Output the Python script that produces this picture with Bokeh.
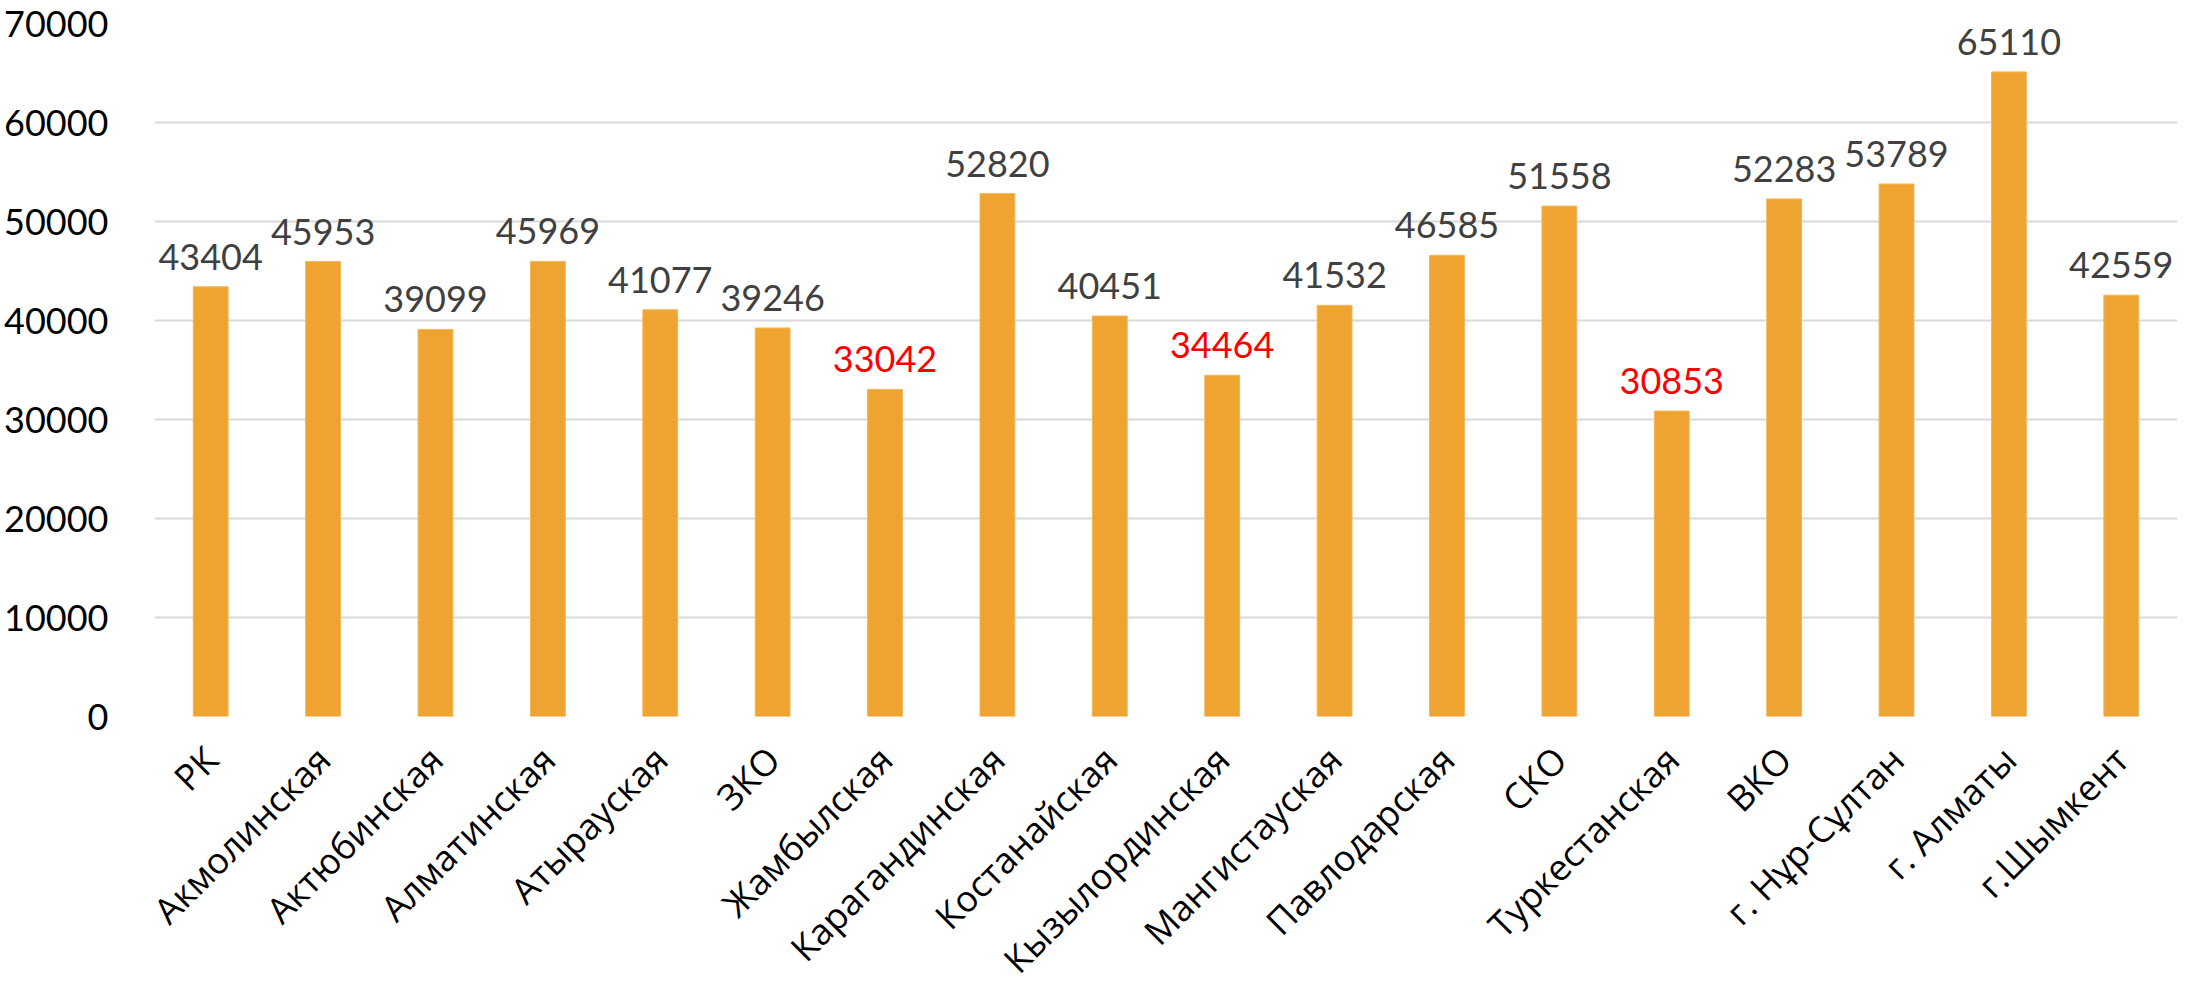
import math
from bokeh.plotting import figure
from bokeh.layouts import column
from bokeh.models import ColumnDataSource, LabelSet, FixedTicker, BasicTickFormatter
from bokeh.core.properties import value
from bokeh.embed import file_html
from bokeh.resources import INLINE

regions = ["РК", "Акмолинская", "Актюбинская", "Алматинская", "Атырауская", "ЗКО",
           "Жамбылская", "Карагандинская", "Костанайская", "Кызылординская",
           "Мангистауская", "Павлодарская", "СКО", "Туркестанская", "ВКО",
           "г. Нұр-Сұлтан", "г. Алматы", "г.Шымкент"]
salary = [43404, 45953, 39099, 45969, 41077, 39246, 33042, 52820, 40451, 34464,
          41532, 46585, 51558, 30853, 52283, 53789, 65110, 42559]
highlighted = ["Жамбылская", "Кызылординская", "Туркестанская"]
y_ticks = [0, 10000, 20000, 30000, 40000, 50000, 60000, 70000]

NUM_FONT = "Lato"
CAT_FONT = "Open Sans"
W = 2194
BL, BR = 154, 17
H_MAIN = 740
H_LABELS = 985 - H_MAIN

label_colors = ["#FF0000" if r in highlighted else "#404040" for r in regions]
src = ColumnDataSource(dict(x=regions, y=salary,
                            lbl=[str(v) for v in salary], col=label_colors))

# ---------------- main chart ----------------
p = figure(x_range=regions, y_range=(0, 70000), width=W, height=H_MAIN,
           output_backend="svg", toolbar_location=None,
           min_border_left=BL, min_border_right=BR, min_border_top=23,
           min_border_bottom=24)
p.outline_line_color = None
p.background_fill_color = "white"
p.border_fill_color = "white"
p.x_range.range_padding = 0

p.vbar(x="x", top="y", width=0.31, source=src, fill_color="#EFA330",
       line_color="#F3B65A", line_width=1)

labels = LabelSet(x="x", y="y", text="lbl", source=src, text_color="col",
                  text_align="center", text_baseline="alphabetic", y_offset=17,
                  text_font=value(NUM_FONT), text_font_size=value("36px"))
p.add_layout(labels)

p.yaxis.ticker = FixedTicker(ticks=y_ticks)
p.yaxis.formatter = BasicTickFormatter(use_scientific=False)
p.yaxis.axis_line_color = None
p.yaxis.major_tick_line_color = None
p.yaxis.minor_tick_line_color = None
p.yaxis.major_label_standoff = 40
p.yaxis.major_label_text_font = NUM_FONT
p.yaxis.major_label_text_font_size = "36px"
p.yaxis.major_label_text_color = "#000000"

p.xaxis.visible = False
p.xgrid.grid_line_color = None
p.ygrid.grid_line_color = "#D9D9D9"
p.ygrid.grid_line_width = 2

# ---------------- category label strip sharing the categorical x range ----------------
cat_src = ColumnDataSource(dict(x=regions, y=[1] * len(regions)))
q = figure(x_range=p.x_range, y_range=(0, 1),
           width=W, height=H_LABELS, output_backend="svg", toolbar_location=None,
           x_axis_location=None, y_axis_location=None,
           min_border_left=BL, min_border_right=BR, min_border_top=0,
           min_border_bottom=0)
q.outline_line_color = None
q.background_fill_color = "white"
q.border_fill_color = "white"
q.grid.visible = False

cat_labels = LabelSet(x="x", y="y", text="x", source=cat_src, text_color="#000000",
                      text_align="right", text_baseline="alphabetic",
                      angle=math.pi / 4, x_offset=10, y_offset=-22,
                      text_font=value(CAT_FONT), text_font_size=value("36px"))
q.add_layout(cat_labels)

layout = column(p, q, spacing=0)
open("out.html", "w").write(file_html(layout, INLINE))
